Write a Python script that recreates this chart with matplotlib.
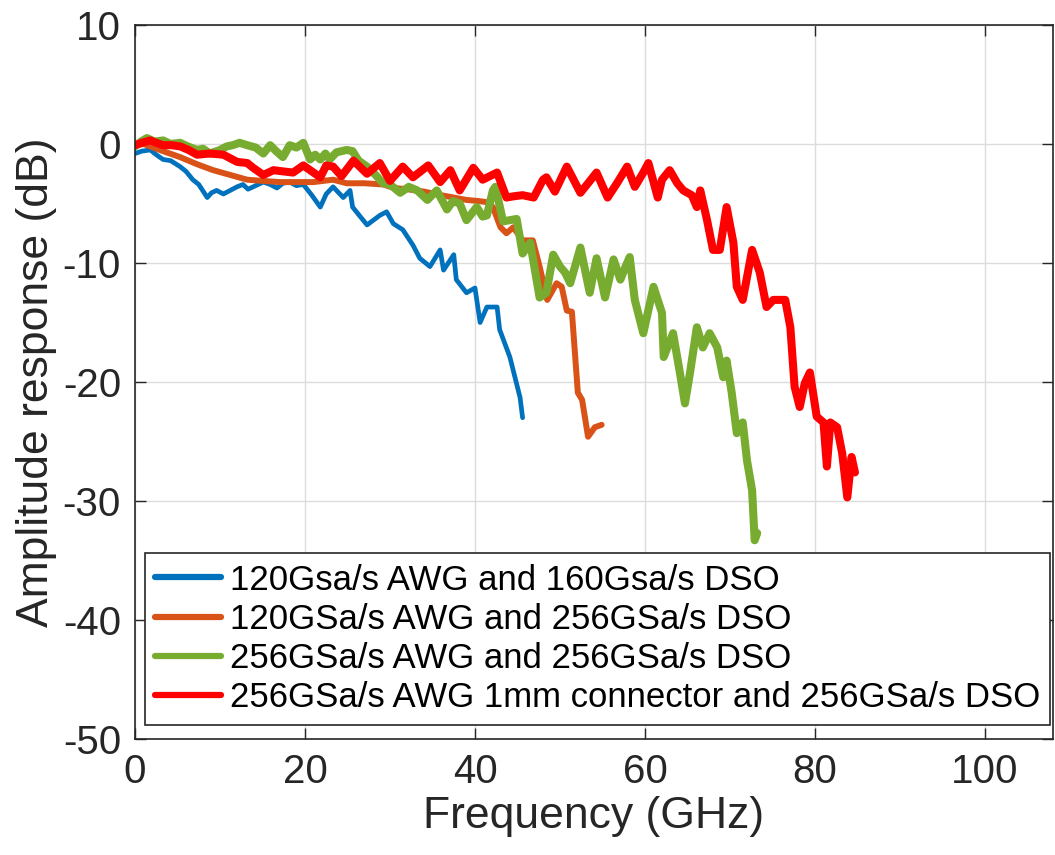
import numpy as np
import matplotlib
matplotlib.use('Agg')
import matplotlib.pyplot as plt

plt.rcParams['font.family'] = ['Liberation Sans', 'DejaVu Sans']
plt.rcParams['axes.unicode_minus'] = False

## Measured amplitude responses (GHz, dB)
f_blue = [0, 0.8, 1.8, 2.5, 3.3, 4.2, 5.3, 6.0, 6.8, 7.5, 8.5, 9.0, 9.6, 10.4, 11.2,
          12.0, 12.7, 13.3, 13.9, 15.1, 15.9, 16.7, 17.4, 18.2, 19.0, 19.8, 20.8, 21.8,
          22.5, 23.3, 24.5, 25.3, 25.6, 26.5, 27.3, 28.8, 29.6, 30.4, 31.5, 32.7, 33.5,
          34.7, 35.9, 36.3, 37.5, 37.8, 39.0, 40.0, 40.6, 41.4, 42.6, 42.9, 44.1, 45.3, 45.6]
a_blue = [-0.8, -0.6, -0.5, -0.9, -1.3, -1.4, -1.9, -2.3, -3.0, -3.4, -4.5, -4.1, -3.9,
          -4.2, -3.9, -3.6, -3.4, -3.8, -3.6, -3.2, -3.4, -3.7, -3.3, -3.2, -3.5, -3.4,
          -4.3, -5.3, -4.2, -3.6, -4.5, -3.9, -5.3, -6.1, -6.8, -6.0, -5.7, -6.7, -7.2,
          -8.5, -9.6, -10.3, -8.9, -10.6, -9.3, -11.4, -12.5, -12.1, -15.0, -13.7, -13.7,
          -15.6, -17.9, -21.3, -23.0]

f_orange = [0, 1.0, 1.8, 3.3, 5.3, 7.3, 9.2, 11.2, 13.2, 15.0, 17.0, 19.0, 21.0, 23.3,
            24.9, 27.0, 29.2, 30.5, 32.0, 34.0, 36.0, 37.5, 39.0, 40.5, 41.5, 42.1, 43.0,
            43.7, 44.5, 45.6, 46.8, 47.6, 48.5, 49.6, 50.2, 50.8, 51.4, 52.1, 52.6, 53.3,
            54.1, 54.9]
a_orange = [-0.1, 0.0, -0.2, -0.6, -1.1, -1.7, -2.2, -2.6, -3.0, -3.1, -3.2, -3.2, -3.2,
            -3.0, -3.3, -3.3, -3.4, -3.7, -3.8, -4.0, -4.3, -4.5, -4.7, -4.8, -4.9, -5.3,
            -7.0, -7.5, -7.0, -8.1, -8.1, -10.3, -13.1, -11.7, -12.0, -14.0, -14.1, -20.9,
            -21.5, -24.6, -23.8, -23.6]

f_green = [0, 0.7, 1.4, 2.3, 3.3, 4.2, 5.3, 6.2, 7.3, 8.0, 8.8, 10.0, 10.8, 11.5, 12.3,
           13.2, 14.2, 15.1, 15.9, 16.6, 17.4, 18.2, 19.0, 19.8, 20.6, 21.2, 21.8, 22.4,
           22.9, 23.7, 24.9, 25.6, 26.3, 27.3, 28.3, 29.2, 30.0, 31.2, 32.2, 33.2, 34.4,
           35.5, 36.7, 37.4, 38.2, 39.0, 40.2, 40.9, 41.4, 42.1, 42.4, 43.3, 44.1, 44.9,
           45.6, 46.5, 47.6, 48.4, 49.2, 50.0, 50.6, 51.2, 52.4, 53.5, 54.3, 55.3, 56.3,
           57.1, 57.6, 58.2, 58.8, 59.8, 61.0, 62.0, 62.2, 63.3, 64.1, 64.7, 65.3, 66.1,
           66.8, 67.6, 68.5, 69.2, 69.6, 70.2, 70.8, 71.5, 72.0, 72.6, 72.9, 73.2]
a_green = [-0.2, 0.2, 0.5, 0.2, 0.3, 0.0, 0.1, -0.2, -0.5, -0.4, -0.8, -0.5, -0.2, -0.1,
           0.1, -0.1, -0.3, -0.8, -0.1, -0.6, -1.1, -0.1, -0.3, 0.1, -1.3, -0.9, -1.3,
           -0.8, -1.3, -0.7, -0.5, -0.6, -1.4, -1.9, -2.6, -3.3, -3.4, -4.1, -3.6, -3.9,
           -4.7, -3.9, -5.5, -4.8, -5.0, -6.4, -5.3, -6.1, -6.0, -3.9, -3.6, -6.5, -6.4,
           -6.3, -9.2, -8.3, -12.9, -12.5, -9.3, -10.3, -10.8, -11.7, -8.7, -12.5, -9.6,
           -12.9, -9.7, -11.4, -10.5, -9.5, -13.1, -15.9, -12.0, -14.2, -17.9, -15.9,
           -19.2, -21.8, -19.2, -15.4, -17.1, -15.9, -17.1, -19.6, -18.2, -20.9, -24.3,
           -23.4, -26.6, -29.1, -33.3, -32.7]

f_red = [0, 0.8, 1.8, 2.5, 3.3, 4.3, 5.3, 6.3, 7.3, 8.8, 10.4, 12.0, 13.2, 13.9, 15.1,
         16.3, 17.4, 18.6, 19.8, 21.0, 21.8, 22.5, 23.3, 24.3, 25.7, 27.3, 28.8, 30.0,
         31.5, 32.7, 34.5, 35.9, 37.1, 38.2, 39.8, 40.9, 42.6, 43.7, 44.5, 45.6, 46.9,
         48.0, 48.4, 49.4, 50.8, 52.4, 53.3, 54.3, 55.6, 56.7, 57.9, 58.8, 59.8, 60.4,
         61.5, 62.0, 62.9, 63.8, 64.5, 65.5, 66.1, 66.5, 67.3, 68.0, 68.8, 69.6, 70.4,
         70.8, 71.5, 72.6, 73.5, 74.3, 75.1, 76.5, 77.1, 77.6, 78.2, 78.8, 79.4, 80.2,
         81.0, 81.4, 81.8, 82.6, 83.2, 83.8, 84.3, 84.7]
a_red = [-0.1, 0.1, 0.3, 0.1, -0.1, -0.1, -0.2, -0.5, -0.9, -0.8, -0.9, -1.5, -1.6, -2.0,
         -2.6, -2.2, -2.3, -2.4, -1.8, -2.4, -2.8, -1.8, -1.9, -2.7, -1.4, -2.5, -1.6,
         -3.1, -1.9, -2.8, -1.8, -3.2, -2.2, -3.9, -2.0, -3.0, -2.4, -4.5, -4.4, -4.3,
         -4.5, -3.0, -2.8, -4.0, -1.9, -4.1, -3.3, -2.4, -4.5, -3.3, -1.9, -3.6, -2.4,
         -1.6, -4.5, -3.0, -2.2, -3.3, -3.9, -4.3, -5.3, -3.9, -6.4, -8.9, -8.9, -5.3,
         -8.3, -12.0, -13.1, -8.9, -10.8, -13.7, -13.1, -13.1, -15.4, -20.4, -22.1, -20.1,
         -19.2, -22.9, -23.4, -27.1, -23.4, -23.8, -26.0, -29.7, -26.3, -27.6]

labels = ['120Gsa/s AWG and 160Gsa/s DSO',
          '120GSa/s AWG and 256GSa/s DSO',
          '256GSa/s AWG and 256GSa/s DSO',
          '256GSa/s AWG 1mm connector and 256GSa/s DSO']

## Plot
txt = '#262626'
fig = plt.figure(figsize=(10.55, 8.55), dpi=100)
ax = fig.add_axes([135/1055, 116/855, 918/1055, 714/855])

curves = [(f_blue, a_blue, '#0072BD', 3.4),
          (f_orange, a_orange, '#D95319', 4.3),
          (f_green, a_green, '#77AC30', 5.8),
          (f_red, a_red, '#FF0000', 5.8)]
for (f, a, c, lw), lab in zip(curves, labels):
    ax.plot(f, a, color=c, lw=lw, label=lab, solid_joinstyle='round',
            solid_capstyle='round')

ax.set_xlim(0, 108)
ax.set_ylim(-50, 10)
ax.set_xticks(np.arange(0, 101, 20))
ax.set_yticks(np.arange(-50, 11, 10))
ax.grid(True, color='#dcdcdc', lw=1)
ax.set_axisbelow(True)
ax.tick_params(direction='in', length=8, width=1, colors=txt, labelsize=29,
               top=True, right=True, pad=10)
for s in ax.spines.values():
    s.set_color(txt)
    s.set_linewidth(1.2)

ax.set_xlabel('Frequency (GHz)', fontsize=32, color=txt, labelpad=4)
ax.set_ylabel('Amplitude response (dB)', fontsize=32, color=txt, labelpad=4)

leg = ax.legend(loc='lower right', bbox_to_anchor=(0.997, 0.02), borderaxespad=0,
                fontsize=25, handlelength=1.9, handletextpad=0.25,
                labelspacing=0.18, borderpad=0.3, fancybox=False, framealpha=1)
leg.get_frame().set_edgecolor(txt)
leg.get_frame().set_linewidth(1.2)
for h in leg.get_lines():
    h.set_linewidth(4.5)

plt.savefig('out.png', dpi=100)
